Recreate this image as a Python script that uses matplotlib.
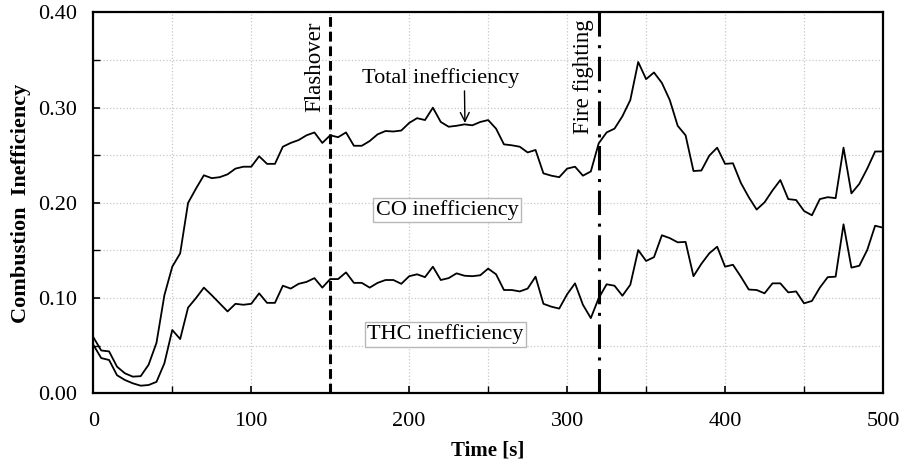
import numpy as np
import matplotlib
matplotlib.use("Agg")
import matplotlib.pyplot as plt

plt.rcParams['font.family'] = ['Liberation Serif', 'DejaVu Serif']

# time axis, one sample every 5 s
time = np.arange(0, 501, 5)

# total inefficiency (upper curve)
total = [
    0.059, 0.045, 0.044, 0.028, 0.021, 0.0175, 0.018, 0.030, 0.053, 0.103,
    0.133, 0.147, 0.200, 0.215, 0.229, 0.226, 0.227, 0.230, 0.236, 0.238,
    0.238, 0.249, 0.241, 0.241, 0.259, 0.263, 0.266, 0.271, 0.274, 0.263,
    0.271, 0.269, 0.274, 0.260, 0.260, 0.265, 0.272, 0.2755, 0.275, 0.276,
    0.284, 0.289, 0.287, 0.300, 0.285, 0.280, 0.281, 0.2825, 0.2815, 0.285,
    0.287, 0.278, 0.2615, 0.2605, 0.259, 0.253, 0.2556, 0.231, 0.2286, 0.227,
    0.236, 0.238, 0.2286, 0.233, 0.2626, 0.274, 0.278, 0.291, 0.308, 0.348,
    0.330, 0.337, 0.326, 0.308, 0.281, 0.271, 0.2335, 0.234, 0.2496, 0.258,
    0.241, 0.2416, 0.221, 0.206, 0.193, 0.2006, 0.213, 0.224, 0.204, 0.203,
    0.1915, 0.187, 0.204, 0.206, 0.205, 0.258, 0.210, 0.220, 0.236, 0.254,
    0.254,
]

# THC inefficiency (lower curve)
thc = [
    0.051, 0.037, 0.035, 0.019, 0.014, 0.0105, 0.008, 0.0087, 0.012, 0.0315,
    0.0665, 0.057, 0.090, 0.100, 0.111, 0.103, 0.0945, 0.086, 0.094, 0.093,
    0.094, 0.105, 0.095, 0.095, 0.113, 0.110, 0.115, 0.117, 0.121, 0.111,
    0.120, 0.120, 0.127, 0.116, 0.116, 0.111, 0.116, 0.119, 0.119, 0.115,
    0.123, 0.125, 0.122, 0.133, 0.119, 0.121, 0.126, 0.1235, 0.123, 0.124,
    0.131, 0.125, 0.1085, 0.1085, 0.107, 0.110, 0.1225, 0.094, 0.091, 0.089,
    0.104, 0.1155, 0.093, 0.079, 0.100, 0.1145, 0.113, 0.1025, 0.114, 0.1505,
    0.139, 0.143, 0.166, 0.163, 0.1586, 0.159, 0.123, 0.136, 0.147, 0.154,
    0.133, 0.135, 0.1225, 0.109, 0.1085, 0.105, 0.1155, 0.1155, 0.106, 0.107,
    0.0945, 0.097, 0.111, 0.122, 0.1225, 0.1775, 0.132, 0.134, 0.1505, 0.176,
    0.174,
]

flashover_t = 150
firefight_t = 320

fig = plt.figure(figsize=(9.05, 4.66), dpi=100)
ax = fig.add_axes([0.1031, 0.156, 0.8726, 0.8172])

ax.plot(time, total, color='black', lw=1.3)
ax.plot(time, thc, color='black', lw=1.3)

# event markers
ax.axvline(flashover_t, color='black', lw=2.2, linestyle=(0, (3.2, 1.6)))
ax.axvline(firefight_t, color='black', lw=2.2, linestyle=(0, (8, 2.8, 1, 2.8)))

ax.set_xlim(0, 500)
ax.set_ylim(0, 0.40)
ax.set_xticks(np.arange(0, 501, 100))
ax.set_xticks(np.arange(0, 501, 50), minor=True)
ax.set_yticks(np.arange(0, 0.401, 0.1))
ax.set_yticks(np.arange(0, 0.401, 0.05), minor=True)
ax.set_yticklabels([f'{v:.2f}' for v in np.arange(0, 0.401, 0.1)])
ax.tick_params(which='both', direction='in', labelsize=16)
ax.tick_params(which='major', length=5, width=1.2)
ax.tick_params(which='minor', length=5, width=1.0)
ax.tick_params(axis='x', pad=13.5)
ax.tick_params(axis='y', pad=12)
ax.grid(which='both', color='#c8c8c8', linestyle=':', lw=0.9)
ax.set_axisbelow(True)
for sp in ax.spines.values():
    sp.set_linewidth(1.6)

ax.set_xlabel('Time [s]', fontsize=15, fontweight='bold', labelpad=7)
ax.set_ylabel('Combustion  Inefficiency', fontsize=16, fontweight='bold', labelpad=5)

ax.text(flashover_t - 3, 0.391, 'Flashover', rotation=90, ha='right', va='top', fontsize=16.5)
ax.text(firefight_t - 3, 0.393, 'Fire fighting', rotation=90, ha='right', va='top', fontsize=16.5)

ax.annotate('Total inefficiency', xy=(235.3, 0.284), xytext=(220, 0.331),
            ha='center', va='center', fontsize=16,
            arrowprops=dict(arrowstyle='->', color='black', lw=1.0,
                            shrinkA=0, shrinkB=0,
                            relpos=(0.65, 0.3)))

box = dict(boxstyle='square,pad=0.1', facecolor='white', edgecolor='#b8b8b8', lw=1.0)
ax.text(224, 0.1925, 'CO inefficiency', ha='center', va='center', fontsize=16, bbox=box)
ax.text(222.9, 0.0618, 'THC inefficiency', ha='center', va='center', fontsize=16, bbox=box)

fig.savefig('out.png', dpi=100)
